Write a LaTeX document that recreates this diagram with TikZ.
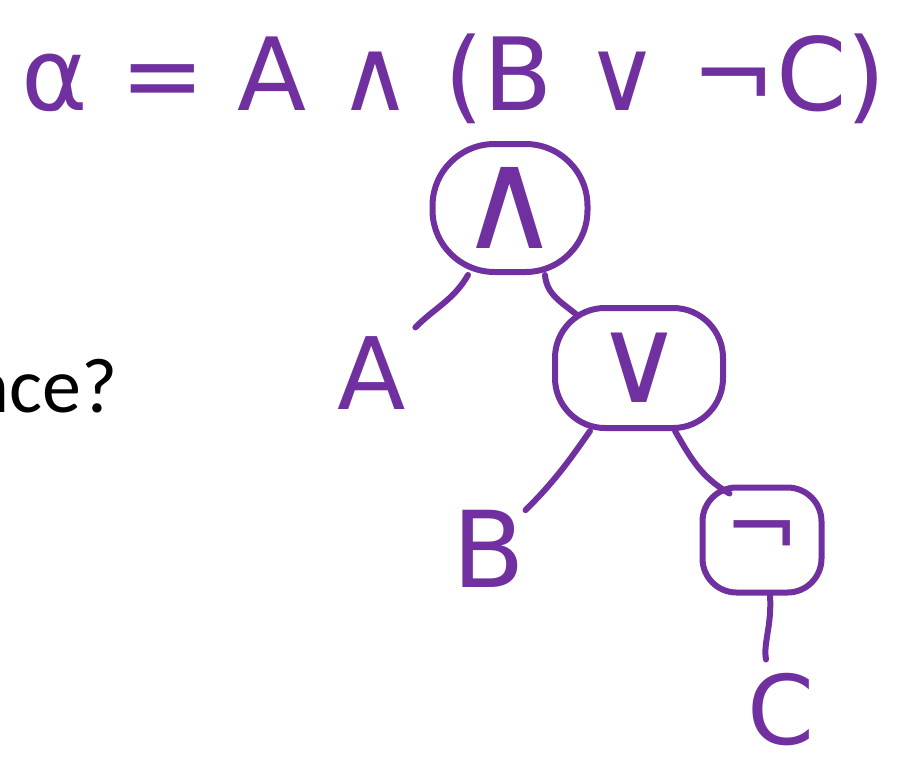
\documentclass[tikz,border=0pt]{standalone}
\usepackage{fontspec}
\newfontfamily\calib{Carlito}
\newfontfamily\dvs{DejaVu Sans}
\definecolor{hp}{RGB}{112,48,160}
\tikzset{
  opnode/.style={draw=hp, line width=6pt, text=hp, inner sep=0pt, font=\dvs},
  lbl/.style={text=hp, inner sep=0pt, font=\dvs},
  conn/.style={draw=hp, line width=6pt, line cap=round},
}
\begin{document}
\begin{tikzpicture}[x=1pt,y=1pt]
\useasboundingbox (0,0) rectangle (905,-766);
% formula
\node[lbl, anchor=base] (formula) at (454,-110) {\fontsize{101}{101}\selectfont α = A ∧ (B ∨ ¬C)};
% left text
\node[anchor=base east, inner sep=0pt] (q) at (118,-412) {\calib\fontsize{78}{78}\selectfont nce?};
% operator nodes
\node[opnode, minimum width=155pt, minimum height=128pt, rounded corners=62pt] (and) at (510,-208) {\fontsize{140}{140}\selectfont ∧};
\node[opnode, minimum width=168pt, minimum height=120pt, rounded corners=50pt] (or) at (639,-368) {\fontsize{120}{120}\selectfont ∨};
\node[opnode, minimum width=119pt, minimum height=105pt, rounded corners=34pt] (neg) at (762,-540) {\fontsize{90}{90}\selectfont ¬};
% leaves
\node[lbl] (A) at (372,-373) {\fontsize{100}{100}\selectfont A};
\node[lbl] (B) at (489,-549) {\fontsize{106}{106}\selectfont B};
\node[lbl] (C) at (781,-710) {\fontsize{96}{96}\selectfont C};
% connectors
\draw[conn] ([xshift=-42pt]and.south) to[out=-120,in=45] ([xshift=9pt,yshift=9pt]A.north east);
\draw[conn] ([xshift=35pt]and.south) to[out=-85,in=140] ([xshift=25pt,yshift=-10pt]or.north west);
\draw[conn] ([xshift=-49pt]or.south) to[out=-125,in=45] (B.north east);
\draw[conn] ([xshift=36pt]or.south) to[out=-60,in=150] ([xshift=30pt,yshift=-9pt]neg.north west);
\draw[conn] ([xshift=8pt]neg.south) .. controls ([xshift=10pt,yshift=-30pt]neg.south) and ([xshift=-18pt,yshift=30pt]C.north) .. ([xshift=-15pt,yshift=14pt]C.north);
\end{tikzpicture}
\end{document}
